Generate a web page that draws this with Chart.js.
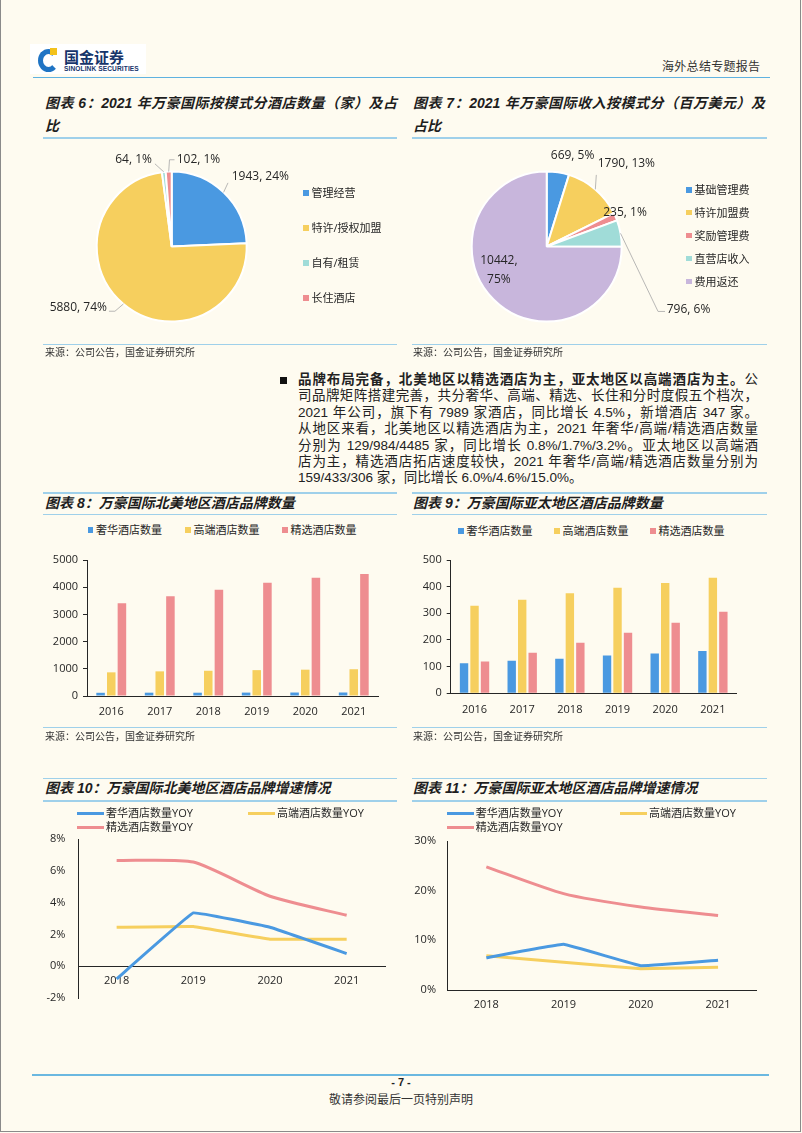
<!DOCTYPE html>
<html lang="zh">
<head>
<meta charset="UTF-8" />
<title>海外总结专题报告 - 7</title>
<script src="https://cdn.jsdelivr.net/npm/chart.js"></script>
<style>
  body { margin: 0; background: #fefbf0; font-family: "Liberation Sans", "Noto Sans CJK SC", sans-serif; color: #222; }
  .page { position: relative; width: 802px; height: 1133px; overflow: hidden; }
  .frame { position: absolute; left: 0; top: 0; width: 799px; height: 1131px; border: 1px solid #8a8a8a; border-top: none; }
  .abs { position: absolute; }
  .hline { position: absolute; height: 1.5px; background: #9fd0ea; }
  .title { position: absolute; font: italic bold 14px "Liberation Sans", "Noto Sans CJK SC", sans-serif; color: #1e1e1e; line-height: 23px; white-space: nowrap; }
  .just { text-align: justify; text-align-last: justify; }
  .src { position: absolute; font-size: 10px; color: #333; line-height: 12px; }
  .para { position: absolute; left: 298px; width: 460px; font-size: 13.5px; line-height: 16.4px; }
  .para div { white-space: nowrap; text-align: justify; text-align-last: justify; }
  .para div.last { text-align-last: left; }
  .leg { position: absolute; font: 11px "Open Sans", "Noto Sans CJK SC", sans-serif; color: #262626; white-space: nowrap; line-height: 14px; display: flex; align-items: center; }
  .leg .sq { width: 5.5px; height: 5.5px; margin-right: 3px; }
  .leg .ln { width: 27px; height: 3px; margin-right: 2px; }
  canvas { position: absolute; }
</style>
</head>
<body>
<div class="page" id="page">
  <div class="frame"></div>

  <!-- header -->
  <div class="abs" style="left:30px;top:44px;width:116px;height:30px;background:#fff;"></div>
  <div class="abs" style="left:38px;top:49px;width:11px;height:13px;border:5px solid #1f74c4;border-right-color:transparent;border-radius:50%;"></div>
  <div class="abs" style="left:50px;top:48px;width:6.5px;height:6.5px;background:#f3c21b;"></div>
  <div class="abs" style="left:64px;top:48px;font:bold 15px 'Noto Sans CJK SC';color:#17356a;line-height:18px;">国金证券</div>
  <div class="abs" style="left:64px;top:65px;font:bold 6.6px 'Liberation Sans';color:#17356a;letter-spacing:0.1px;">SINOLINK SECURITIES</div>
  <div class="abs" style="left:662px;top:57px;font-size:12px;color:#333;letter-spacing:0.3px;">海外总结专题报告</div>
  <div class="abs" style="left:33px;top:76.5px;width:737px;height:1.6px;background:#5fb2e0;"></div>

  <!-- chart 6 / 7 titles -->
  <div class="title" style="left:45px;top:92px;width:352px;">
    <div class="just">图表 6：2021 年万豪国际按模式分酒店数量（家）及占</div><div>比</div>
  </div>
  <div class="hline" style="left:43px;top:137px;width:354px;"></div>
  <div class="title" style="left:413px;top:92px;width:352px;">
    <div class="just">图表 7：2021 年万豪国际收入按模式分（百万美元）及</div><div>占比</div>
  </div>
  <div class="hline" style="left:411.5px;top:137px;width:355px;"></div>

  <canvas id="pie6" width="370" height="213" style="left:40px;top:140px;"></canvas>
  <canvas id="pie7" width="370" height="213" style="left:412px;top:140px;"></canvas>

  <div class="hline" style="left:43px;top:343.5px;width:354px;"></div>
  <div class="src" style="left:45px;top:347px;">来源：公司公告，国金证券研究所</div>
  <div class="hline" style="left:411.5px;top:343.5px;width:355px;"></div>
  <div class="src" style="left:413px;top:347px;">来源：公司公告，国金证券研究所</div>

  <!-- paragraph -->
  <div class="abs" style="left:280px;top:377px;width:6.5px;height:6.5px;background:#111;"></div>
  <div class="para" style="top:372px;">
    <div><b>品牌布局完备，北美地区以精选酒店为主，亚太地区以高端酒店为主。</b>公</div>
    <div>司品牌矩阵搭建完善，共分奢华、高端、精选、长住和分时度假五个档次，</div>
    <div>2021 年公司，旗下有 7989 家酒店，同比增长 4.5%，新增酒店 347 家。</div>
    <div>从地区来看，北美地区以精选酒店为主，2021 年奢华/高端/精选酒店数量</div>
    <div>分别为 129/984/4485 家，同比增长 0.8%/1.7%/3.2%。亚太地区以高端酒</div>
    <div>店为主，精选酒店拓店速度较快，2021 年奢华/高端/精选酒店数量分别为</div>
    <div class="last">159/433/306 家，同比增长 6.0%/4.6%/15.0%。</div>
  </div>

  <!-- chart 8 / 9 -->
  <div class="hline" style="left:43px;top:492px;width:354px;"></div>
  <div class="title" style="left:45px;top:492px;">图表 8：万豪国际北美地区酒店品牌数量</div>
  <div class="hline" style="left:43px;top:513.5px;width:354px;"></div>
  <div class="hline" style="left:411.5px;top:492px;width:355px;"></div>
  <div class="title" style="left:413px;top:492px;">图表 9：万豪国际亚太地区酒店品牌数量</div>
  <div class="hline" style="left:411.5px;top:513.5px;width:355px;"></div>

  <canvas id="bar8" width="380" height="190" style="left:30px;top:540px;"></canvas>
  <canvas id="bar9" width="380" height="190" style="left:410px;top:540px;"></canvas>

  <div class="hline" style="left:43px;top:726.5px;width:354px;"></div>
  <div class="src" style="left:45px;top:731px;">来源：公司公告，国金证券研究所</div>
  <div class="hline" style="left:411.5px;top:726.5px;width:355px;"></div>
  <div class="src" style="left:413px;top:731px;">来源：公司公告，国金证券研究所</div>

  <!-- chart 10 / 11 -->
  <div class="hline" style="left:43px;top:777.5px;width:354px;"></div>
  <div class="title" style="left:45px;top:777px;">图表 10：万豪国际北美地区酒店品牌增速情况</div>
  <div class="hline" style="left:43px;top:800px;width:354px;"></div>
  <div class="hline" style="left:411.5px;top:777.5px;width:355px;"></div>
  <div class="title" style="left:413px;top:777px;">图表 11：万豪国际亚太地区酒店品牌增速情况</div>
  <div class="hline" style="left:411.5px;top:800px;width:355px;"></div>

  <canvas id="line10" width="380" height="199" style="left:30px;top:819px;"></canvas>
  <canvas id="line11" width="380" height="194" style="left:410px;top:821px;"></canvas>

  <!-- footer -->
  <div class="abs" style="left:32px;top:1074px;width:737px;height:2px;background:#6bb8e0;"></div>
  <div class="abs" style="left:0;width:802px;top:1076px;text-align:center;font:bold 11px 'Liberation Sans';color:#222;">- 7 -</div>
  <div class="abs" style="left:0;width:802px;top:1090px;text-align:center;font-size:12px;color:#333;">敬请参阅最后一页特别声明</div>
</div>

<script>
// ---- data ----
const modeLabels = ['管理经营', '特许/授权加盟', '自有/租赁', '长住酒店'];
const modeCounts = [1943, 5880, 64, 102];
const modePct = [24, 74, 1, 1];

const revLabels = ['基础管理费', '特许加盟费', '奖励管理费', '直营店收入', '费用返还'];
const revValues = [669, 1790, 235, 796, 10442];
const revPct = [5, 13, 1, 6, 75];

const years = ['2016', '2017', '2018', '2019', '2020', '2021'];
const brandLabels = ['奢华酒店数量', '高端酒店数量', '精选酒店数量'];
const naLuxury = [118, 122, 121, 125, 128, 129];
const naUpscale = [870, 906, 928, 951, 968, 984];
const naSelect = [3410, 3667, 3909, 4163, 4346, 4485];
const apLuxury = [113, 122, 130, 142, 149, 159];
const apUpscale = [328, 351, 375, 396, 414, 433];
const apSelect = [119, 152, 190, 227, 265, 306];

const yoyYears = ['2018', '2019', '2020', '2021'];
const yoyLabels = ['奢华酒店数量YOY', '高端酒店数量YOY', '精选酒店数量YOY'];
const naLuxuryYoy = [-0.8, 3.35, 2.45, 0.8];
const naUpscaleYoy = [2.45, 2.5, 1.7, 1.7];
const naSelectYoy = [6.65, 6.55, 4.4, 3.2];
const apLuxuryYoy = [6.5, 9.2, 4.9, 6.0];
const apUpscaleYoy = [6.9, 5.6, 4.3, 4.6];
const apSelectYoy = [24.8, 19.4, 16.7, 15.0];

const blue = '#4a99e1', yellow = '#f6cf5e', pink = '#ee8d90', cyan = '#a0dcd8', lilac = '#c8b6dc';

Chart.defaults.font.family = '"Open Sans", "Noto Sans CJK SC", sans-serif';
Chart.defaults.font.size = 11;
Chart.defaults.color = '#262626';
Chart.defaults.animation = false;

// ---- html legends ----
function legend(kind, labels, colors, spots) {
  const page = document.getElementById('page');
  labels.forEach((t, i) => {
    const d = document.createElement('div');
    d.className = 'leg';
    d.style.left = spots[i][0] + 'px';
    d.style.top = (spots[i][1] - 7) + 'px';
    d.innerHTML = '<span class="' + kind + '" style="background:' + colors[i] + '"></span>' + t;
    page.appendChild(d);
  });
}

// ---- pie data labels with leader lines ----
const pieLabels = {
  id: 'pieLabels',
  afterDatasetsDraw(chart, args, opts) {
    const ctx = chart.ctx;
    const meta = chart.getDatasetMeta(0);
    ctx.save();
    ctx.font = '12px "Open Sans", "Noto Sans CJK SC"';
    ctx.fillStyle = '#262626';
    ctx.strokeStyle = '#a6a6a6';
    ctx.lineWidth = 0.8;
    ctx.textBaseline = 'middle';
    meta.data.forEach((arc, i) => {
      const s = opts.spec[i];
      const p = arc.getProps(['x', 'y', 'startAngle', 'endAngle', 'outerRadius'], true);
      const mid = (p.startAngle + p.endAngle) / 2;
      const ex = p.x + Math.cos(mid) * p.outerRadius;
      const ey = p.y + Math.sin(mid) * p.outerRadius;
      const ax = ex + (s.dx || 0), ay = ey + (s.dy || 0);
      if (s.line) {
        ctx.beginPath();
        ctx.moveTo(ex, ey);
        ctx.lineTo(ax, ay);
        if (s.tail) ctx.lineTo(ax + s.tail, ay);
        ctx.stroke();
      }
      const lines = opts.text(i).split('\n');
      ctx.textAlign = s.align;
      lines.forEach((t, k) => ctx.fillText(t, ax + s.tx, ay + s.ty + (k - (lines.length - 1) / 2) * 19));
    });
    ctx.restore();
  }
};

new Chart(document.getElementById('pie6'), {
  type: 'pie',
  data: {
    labels: modeLabels,
    datasets: [{ data: modeCounts, backgroundColor: [blue, yellow, cyan, pink], borderColor: '#ffffff', borderWidth: 2 }]
  },
  options: {
    responsive: false,
    radius: 75,
    layout: { padding: { right: 106.6 } },
    plugins: {
      legend: { display: false },
      tooltip: { enabled: false },
      pieLabels: {
        text: i => modeCounts[i] + ', ' + modePct[i] + '%',
        spec: [
          { line: true, dx: 4.4, dy: -9.5, tx: 3.7, ty: -6.3, align: 'left' },
          { line: true, dx: -8.5, dy: 7.3, tail: -6, tx: -8, ty: -3.5, align: 'right' },
          { line: true, dx: -8.9, dy: -8.1, tx: -3, ty: -4, align: 'right' },
          { line: true, dx: 0.8, dy: -11.8, tail: 5, tx: 7.2, ty: 0, align: 'left' }
        ]
      }
    }
  },
  plugins: [pieLabels]
});

new Chart(document.getElementById('pie7'), {
  type: 'pie',
  data: {
    labels: revLabels,
    datasets: [{ data: revValues, backgroundColor: [blue, yellow, pink, cyan, lilac], borderColor: '#ffffff', borderWidth: 2 }]
  },
  options: {
    responsive: false,
    radius: 75,
    layout: { padding: { right: 100.6 } },
    plugins: {
      legend: { display: false },
      tooltip: { enabled: false },
      pieLabels: {
        text: i => revValues[i] + (i === 4 ? ',\n' : ', ') + revPct[i] + '%',
        spec: [
          { tx: 14.6, ty: -16.5, align: 'center' },
          { line: true, dx: 1, dy: -14.5, tx: 1.4, ty: -11.7, align: 'left' },
          { tx: 9.5, ty: -4.6, align: 'center' },
          { line: true, dx: 37.5, dy: 78.1, tail: 7, tx: 8.7, ty: -1.7, align: 'left' },
          { tx: 5.3, ty: -29.7, align: 'center' }
        ]
      }
    }
  },
  plugins: [pieLabels]
});

legend('sq', modeLabels, [blue, yellow, cyan, pink], [[303, 193], [303, 228], [303, 263], [303, 298]]);
legend('sq', revLabels, [blue, yellow, pink, cyan, lilac], [[686, 190], [686, 212.5], [686, 235.5], [686, 258.5], [686, 281.5]]);

// ---- bar charts ----
function barChart(id, series, yMax, step, yWidth, xHeight, padRight, xPad) {
  const colors = [blue, yellow, pink];
  new Chart(document.getElementById(id), {
    type: 'bar',
    data: {
      labels: years,
      datasets: series.map((d, i) => ({
        label: brandLabels[i], data: d, backgroundColor: colors[i],
        categoryPercentage: 0.66, barPercentage: 0.8
      }))
    },
    options: {
      responsive: false,
      layout: { padding: { top: 20, right: padRight, left: 0, bottom: 0 } },
      plugins: { legend: { display: false }, tooltip: { enabled: false } },
      scales: {
        x: {
          grid: { display: false, drawTicks: false },
          border: { display: true, color: '#262626', width: 1 },
          ticks: { padding: xPad },
          afterFit: s => { s.height = xHeight; }
        },
        y: {
          min: 0, max: yMax,
          ticks: { stepSize: step, padding: 5, callback: v => String(v) },
          grid: { display: true, drawOnChartArea: false, drawTicks: true, tickLength: 4, color: '#262626' },
          border: { display: true, color: '#262626', width: 1 },
          afterFit: s => { s.width = yWidth; }
        }
      }
    }
  });
}
barChart('bar8', [naLuxury, naUpscale, naSelect], 5000, 1000, 57, 34, 32, 9.4);
barChart('bar9', [apLuxury, apUpscale, apSelect], 500, 100, 40.7, 36.7, 53.3, 9.6);
legend('sq', brandLabels, [blue, yellow, pink], [[87.5, 530], [185, 530], [282, 530]]);
legend('sq', brandLabels, [blue, yellow, pink], [[458, 531], [554, 531], [650, 531]]);

// ---- line charts ----
function lineChart(id, series, yMin, yMax, step, yWidth, pad, xAxis) {
  const colors = [blue, yellow, pink];
  new Chart(document.getElementById(id), {
    type: 'line',
    data: {
      labels: yoyYears,
      datasets: series.map((d, i) => ({
        label: yoyLabels[i], data: d, borderColor: colors[i], backgroundColor: colors[i],
        borderWidth: 3, pointRadius: 0, tension: i === 2 ? 0.2 : 0.05
      }))
    },
    options: {
      responsive: false,
      layout: { padding: pad },
      plugins: { legend: { display: false }, tooltip: { enabled: false } },
      scales: {
        x: Object.assign({
          offset: true,
          grid: { display: false, drawTicks: false },
          border: { display: true, color: '#262626', width: 1 }
        }, xAxis),
        y: {
          min: yMin, max: yMax,
          ticks: { stepSize: step, padding: yMin < 0 ? 13 : 11.7, callback: v => v + '%' },
          grid: { display: false, drawTicks: false },
          border: { display: true, color: '#262626', width: 1 },
          afterFit: s => { s.width = yWidth; }
        }
      }
    }
  });
}
lineChart('line10', [naLuxuryYoy, naUpscaleYoy, naSelectYoy], -2, 8, 2, 48.3,
  { top: 20, right: 25, bottom: 20, left: 0 },
  { position: { y: 0 }, ticks: { padding: 8.4 } });
lineChart('line11', [apLuxuryYoy, apUpscaleYoy, apSelectYoy], 0, 30, 10, 37.7,
  { top: 20, right: 33.3, bottom: 0, left: 0 },
  { ticks: { padding: 8.4 }, afterFit: s => { s.height = 25; } });
legend('ln', yoyLabels, [blue, yellow, pink], [[77, 813], [248, 813], [77, 827]]);
legend('ln', yoyLabels, [blue, yellow, pink], [[446.7, 813], [620, 813], [446.7, 827]]);
</script>
</body>
</html>
